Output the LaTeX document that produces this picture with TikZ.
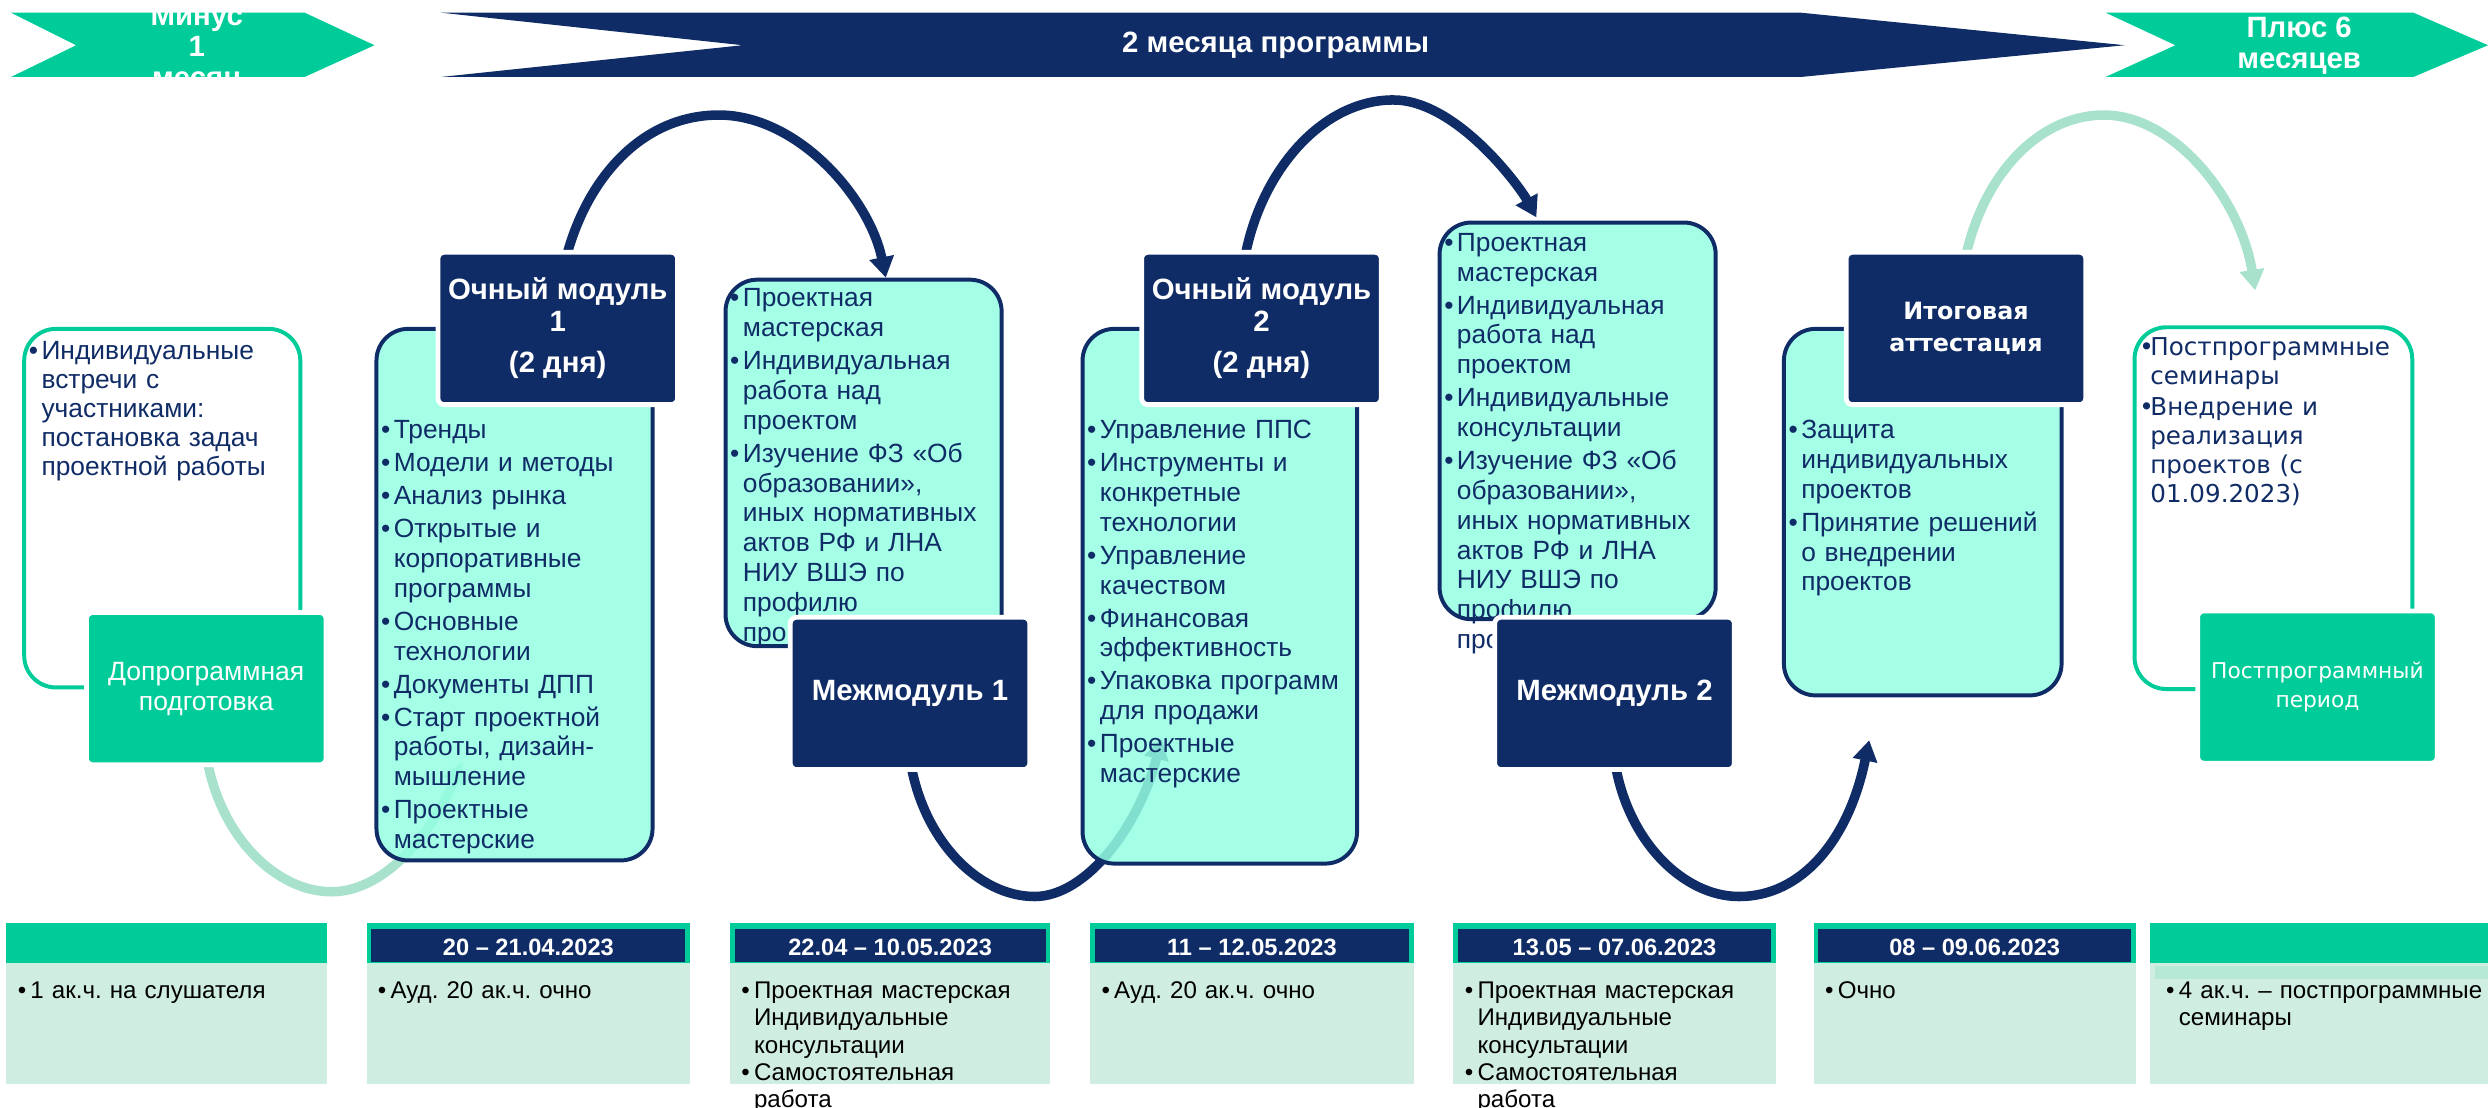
\documentclass[tikz,border=0pt]{standalone}
\usepackage{fontspec}
\setmainfont{Liberation Sans}
\newfontfamily\vsans{DejaVu Sans}
\frenchspacing
\usetikzlibrary{arrows.meta,calc,positioning}
\pgfdeclarelayer{back}
\pgfsetlayers{back,main}

\definecolor{navy}{RGB}{16,44,102}
\definecolor{cyanfill}{RGB}{148,255,226}
\definecolor{brandgreen}{RGB}{0,204,153}
\definecolor{arcgreen}{RGB}{168,226,204}
\definecolor{bodyfill}{RGB}{208,237,225}
\definecolor{stripfill}{RGB}{181,232,213}

\newlength{\bulind}
\setlength{\bulind}{8pt}
\newcommand{\bul}[1]{\noindent\hangindent=\bulind\hangafter=1\strut\makebox[\bulind][l]{\textbullet}#1\par}
\newcommand{\nl}{\unskip\nobreak\hfil\break}

\tikzset{
    card/.style={draw=navy, line width=2.5pt, fill=cyanfill, fill opacity=0.85,
        rounded corners=20pt, inner sep=0pt, anchor=north west},
    whitecard/.style={draw=brandgreen, line width=2.5pt, fill=white,
        rounded corners=20pt, inner sep=0pt, anchor=north west},
    hdrbox/.style={fill=navy, draw=white, line width=3pt, rounded corners=4pt,
        minimum width=151pt, minimum height=96pt, inner sep=0pt, text=white,
        align=center, font=\bfseries\fontsize{18.5}{20}\selectfont},
    greenbox/.style={hdrbox, fill=brandgreen, font=\fontsize{16.7}{19}\selectfont},
    cardtext/.style={anchor=north west, inner sep=0pt, text width=175pt, align=left,
        text=navy, font=\fontsize{16.6}{18.8}\selectfont\setlength{\parskip}{2pt}},
    celltext/.style={anchor=north west, inner sep=0pt, text width=205pt, align=left,
        text=black, font=\fontsize{15.2}{17.2}\selectfont},
    datetext/.style={inner sep=0pt, text=white, font=\bfseries\fontsize{14.9}{17}\selectfont},
    bannertext/.style={inner sep=0pt, text=white, align=center,
        font=\bfseries\fontsize{18.5}{19.5}\selectfont},
    navyarc/.style={draw=navy, line width=6pt, -{Triangle[width=15pt,length=13pt]}},
    greenarc/.style={draw=arcgreen, line width=6pt, -{Triangle[width=15pt,length=13pt]}}
}

\begin{document}
\begin{tikzpicture}[x=1pt,y=-1pt]
\useasboundingbox (0,0) rectangle (1568,698);

% top banners
\fill[brandgreen] (7,8) -- (192,8) -- (236,28.5) -- (192,48.5) -- (7,48.5) -- (48,28.5) -- cycle;
\fill[navy] (278,8) -- (1135,8) -- (1339,28.5) -- (1135,48.5) -- (278,48.5) -- (468,28.5) -- cycle;
\fill[brandgreen] (1327,8) -- (1521,8) -- (1568,28.5) -- (1521,48.5) -- (1327,48.5) -- (1371,28.5) -- cycle;
\begin{scope}
    \clip (7,8) rectangle (236,48.5);
    \node[bannertext] (minus) at (124,31) {Минус\\1\\месяц};
\end{scope}
\node[bannertext] (prog) at (804,28.5) {2 месяца программы};
\node[bannertext] (plus) at (1449,29) {Плюс 6\\месяцев};

% cards
\node[whitecard, minimum width=174pt, minimum height=226pt] (c0) at (14,206) {};
\node[card, minimum width=174pt, minimum height=335pt] (c1) at (236,206) {};
\node[card, minimum width=174pt, minimum height=231pt] (c2) at (456,175) {};
\node[card, minimum width=173pt, minimum height=337pt] (c3) at (681,206) {};
\node[card, minimum width=174pt, minimum height=250pt] (c4) at (906,139) {};
\node[card, minimum width=175pt, minimum height=231pt] (c5) at (1123,206) {};
\node[whitecard, minimum width=175pt, minimum height=228pt] (c6) at (1344,205) {};

% card texts
\node[cardtext, font=\fontsize{16.6}{18.3}\selectfont] (t0) at (18,213.5)
    {\bul{Индивидуальные\nl встречи с\nl участниками:\nl постановка задач\nl проектной работы}};
\node[cardtext] (t1) at (240,263)
    {\bul{Тренды}\bul{Модели и методы}\bul{Анализ рынка}\bul{Открытые и\nl корпоративные\nl программы}%
     \bul{Основные\nl технологии}\bul{Документы ДПП}\bul{Старт проектной\nl работы, дизайн-\nl мышление}%
     \bul{Проектные\nl мастерские}};
\node[cardtext] (t2) at (460,180)
    {\bul{Проектная\nl мастерская}\bul{Индивидуальная\nl работа над\nl проектом}%
     \bul{Изучение ФЗ «Об\nl образовании»,\nl иных нормативных\nl актов РФ и ЛНА\nl НИУ ВШЭ по\nl профилю\nl программы}};
\node[cardtext] (t3) at (685,263)
    {\bul{Управление ППС}\bul{Инструменты и\nl конкретные\nl технологии}\bul{Управление\nl качеством}%
     \bul{Финансовая\nl эффективность}\bul{Упаковка программ\nl для продажи}\bul{Проектные\nl мастерские}};
\node[cardtext] (t4) at (910,145)
    {\bul{Проектная\nl мастерская}\bul{Индивидуальная\nl работа над\nl проектом}\bul{Индивидуальные\nl консультации}%
     \bul{Изучение ФЗ «Об\nl образовании»,\nl иных нормативных\nl актов РФ и ЛНА\nl НИУ ВШЭ по\nl профилю\nl программы}};
\node[cardtext] (t5) at (1127,263)
    {\bul{Защита\nl индивидуальных\nl проектов}\bul{Принятие решений\nl о внедрении\nl проектов}};
\node[cardtext] (t6) at (1348,211)
    {\vsans\fontsize{15.5}{18.2}\selectfont\setlength{\parskip}{1.6pt}\setlength{\bulind}{7pt}%
     \bul{Постпрограммные\nl семинары}\bul{Внедрение и\nl реализация\nl проектов (с\nl 01.09.2023)}};

% header boxes
\node[hdrbox] (hdr1) at (351.5,207) {Очный модуль\\1\\[6pt](2 дня)};
\node[hdrbox] (hdr2) at (795,207) {Очный модуль\\2\\[6pt](2 дня)};
\node[hdrbox, font=\vsans\bfseries\fontsize{15}{20}\selectfont] (hdr3) at (1239,207) {Итоговая\\аттестация};
\node[hdrbox] (mm1) at (573.5,437) {Межмодуль 1};
\node[hdrbox] (mm2) at (1017.5,437) {Межмодуль 2};
\node[greenbox] (pre) at (130,434) {Допрограммная\\подготовка};
\node[greenbox, font=\vsans\fontsize{13.7}{18.5}\selectfont] (post) at (1460.5,433) {Постпрограммный\\период};

% arcs behind the cards
\begin{pgfonlayer}{back}
    \draw[greenarc] ($(pre.south)+(0,-8)$) .. controls (138,527) and (174,562) .. (209,562)
        .. controls (240,562) and (270,530) .. ($(c1.south west)+(55,-63)$);
    \draw[navyarc] ($(mm1.south)+(0,-8)$) .. controls (581.5,530) and (617,565) .. (652,565)
        .. controls (685,565) and (718,520) .. ($(c3.south west)+(51,-80)$);
    \draw[navyarc] ($(mm2.south)+(0,-8)$) .. controls (1025,530) and (1061,565) .. (1096,565)
        .. controls (1135,565) and (1165,530) .. ($(c5.south west)+(55,27)$);
    \draw[navyarc] ($(hdr1.north)+(4.5,8)$) .. controls (369,112) and (405,72.5) .. (453,72.5)
        .. controls (503,72.5) and (548,125) .. ($(c2.north)+(14,0)$);
    \draw[navyarc] ($(hdr2.north)+(-11,8)$) .. controls (793,110) and (832,63) .. (878,63)
        .. controls (918,63) and (958,118) .. ($(c4.north)+(-26,-2)$);
    \draw[greenarc] ($(hdr3.north)+(-1,8)$) .. controls (1249,110) and (1285,72.5) .. (1326,72.5)
        .. controls (1370,72.5) and (1412,125) .. ($(c6.north)+(-11.5,-22)$);
\end{pgfonlayer}

% bottom row
\begin{scope}[shift={(4,582)}]
    \fill[brandgreen] (0,0) rectangle (202,25);
    \fill[bodyfill] (0,25) rectangle (202,101);
    \node[celltext] (cellA) at (7,35) {\bul{1 ак.ч. на слушателя}};
\end{scope}
\begin{scope}[shift={(231,582)}]
    \fill[brandgreen] (0,0) rectangle (204,25);
    \fill[navy] (3,3.5) rectangle (201,24.5);
    \fill[bodyfill] (0,25) rectangle (204,101);
    \node[datetext] (dateB) at (102,15) {20 – 21.04.2023};
    \node[celltext] (cellB) at (7,35) {\bul{Ауд. 20 ак.ч. очно}};
\end{scope}
\begin{scope}[shift={(460,582)}]
    \fill[brandgreen] (0,0) rectangle (202,25);
    \fill[navy] (3,3.5) rectangle (199,24.5);
    \fill[bodyfill] (0,25) rectangle (202,101);
    \node[datetext] (dateC) at (101,15) {22.04 – 10.05.2023};
    \node[celltext] (cellC) at (7,35) {\bul{Проектная мастерская\nl Индивидуальные\nl консультации}\bul{Самостоятельная\nl работа}};
\end{scope}
\begin{scope}[shift={(687,582)}]
    \fill[brandgreen] (0,0) rectangle (204,25);
    \fill[navy] (3,3.5) rectangle (201,24.5);
    \fill[bodyfill] (0,25) rectangle (204,101);
    \node[datetext] (dateD) at (102,15) {11 – 12.05.2023};
    \node[celltext] (cellD) at (7,35) {\bul{Ауд. 20 ак.ч. очно}};
\end{scope}
\begin{scope}[shift={(916,582)}]
    \fill[brandgreen] (0,0) rectangle (203,25);
    \fill[navy] (3,3.5) rectangle (200,24.5);
    \fill[bodyfill] (0,25) rectangle (203,101);
    \node[datetext] (dateE) at (101.5,15) {13.05 – 07.06.2023};
    \node[celltext] (cellE) at (7,35) {\bul{Проектная мастерская\nl Индивидуальные\nl консультации}\bul{Самостоятельная\nl работа}};
\end{scope}
\begin{scope}[shift={(1143,582)}]
    \fill[brandgreen] (0,0) rectangle (203,25);
    \fill[navy] (3,3.5) rectangle (200,24.5);
    \fill[bodyfill] (0,25) rectangle (203,101);
    \node[datetext] (dateF) at (101.5,15) {08 – 09.06.2023};
    \node[celltext] (cellF) at (7,35) {\bul{Очно}};
\end{scope}
\begin{scope}[shift={(1355,582)}]
    \fill[brandgreen] (0,0) rectangle (213,25);
    \fill[bodyfill] (0,25) rectangle (213,101);
    \fill[stripfill] (3,27) rectangle (213,35);
    \node[celltext] (cellG) at (10,35) {\bul{4 ак.ч. – постпрограммные\nl семинары}};
\end{scope}
\end{tikzpicture}
\end{document}
